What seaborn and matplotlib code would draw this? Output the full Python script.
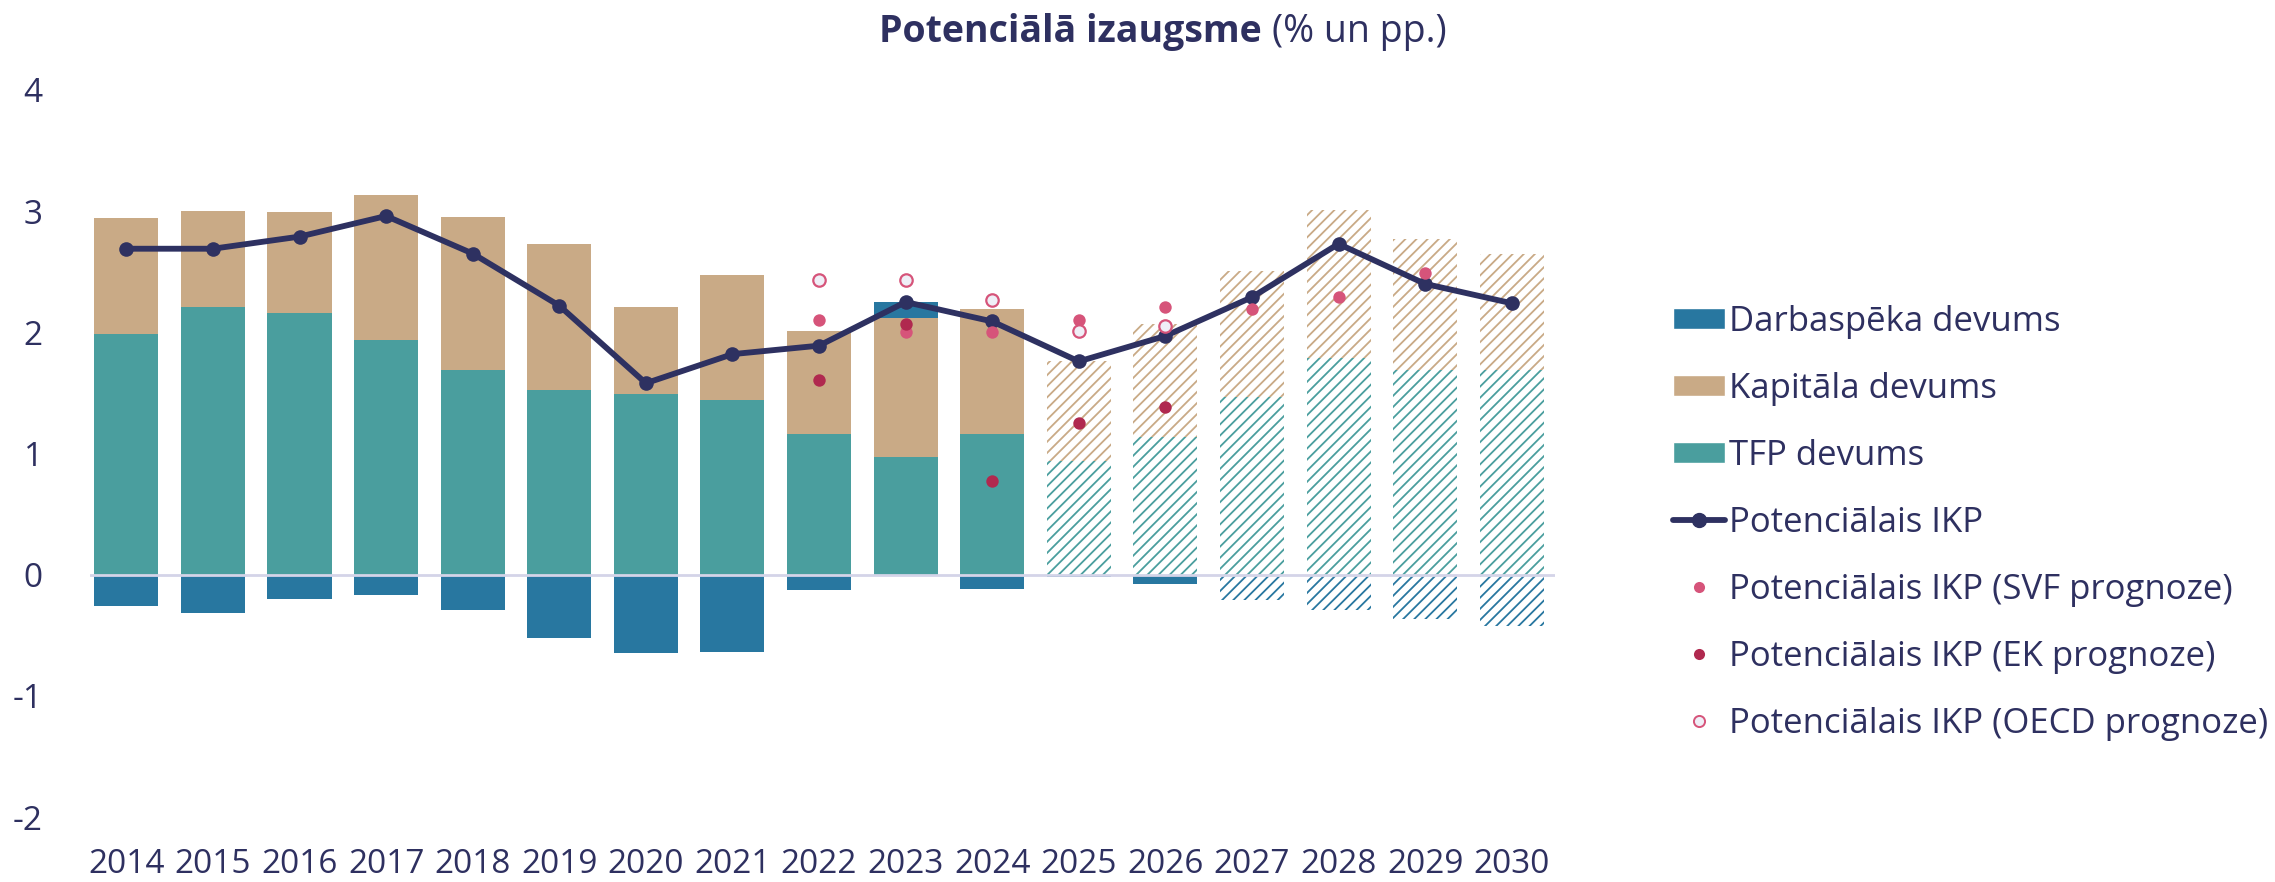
import numpy as np
import pandas as pd
import matplotlib
matplotlib.use("Agg")
import matplotlib.pyplot as plt
import seaborn as sns
from matplotlib.patches import Patch
from matplotlib.lines import Line2D

# data
years = [2014, 2015, 2016, 2017, 2018, 2019, 2020, 2021, 2022,
         2023, 2024, 2025, 2026, 2027, 2028, 2029, 2030]
tfp = [1.99, 2.21, 2.16, 1.94, 1.69, 1.52, 1.49, 1.44, 1.16,
       0.97, 1.16, 0.94, 1.14, 1.47, 1.79, 1.69, 1.69]
capital = [0.95, 0.79, 0.83, 1.19, 1.26, 1.21, 0.72, 1.03, 0.85,
           1.15, 1.03, 0.82, 0.93, 1.04, 1.22, 1.08, 0.96]
labour = [-0.26, -0.32, -0.20, -0.17, -0.29, -0.52, -0.65, -0.64, -0.13,
          0.13, -0.12, -0.02, -0.08, -0.21, -0.29, -0.37, -0.42]
potential = [2.69, 2.69, 2.79, 2.96, 2.65, 2.22, 1.58, 1.82, 1.89,
             2.25, 2.09, 1.76, 1.97, 2.29, 2.73, 2.40, 2.24]

svf_years = [2022, 2023, 2024, 2025, 2026, 2027, 2028, 2029]
svf = [2.10, 2.00, 2.00, 2.10, 2.21, 2.19, 2.29, 2.49]
ek_years = [2022, 2023, 2024, 2025, 2026]
ek = [1.61, 2.07, 0.77, 1.25, 1.38]
oecd_years = [2022, 2023, 2024, 2025, 2026]
oecd = [2.43, 2.43, 2.27, 2.01, 2.05]

forecast_from = 2025
labour_forecast_from = 2027

c_lab = "#2877a0"
c_cap = "#c9aa86"
c_tfp = "#4a9e9e"
c_line = "#2e3161"
c_svf = "#d6547a"
c_ek = "#b0294f"
c_text = "#2e3060"

sns.set_theme(style="white")
plt.rcParams["font.family"] = ["Open Sans", "DejaVu Sans"]
plt.rcParams["hatch.linewidth"] = 1.3
plt.rcParams["text.color"] = c_text

df = pd.DataFrame({"year": years, "tfp": tfp, "capital": capital,
                   "labour": labour, "potential": potential})
df["pos"] = np.arange(len(df))

fig = plt.figure(figsize=(22.75, 8.82), dpi=100)
ax = fig.add_axes([90 / 2275, 65 / 882, (1555 - 90) / 2275, (817 - 90) / 882])

width = 0.74


def draw_bar(x, h, bottom, color, hatched):
    if hatched:
        ax.bar(x, h, width, bottom=bottom, facecolor="white", edgecolor=color,
               hatch="///", linewidth=0, zorder=2)
    else:
        ax.bar(x, h, width, bottom=bottom, color=color, linewidth=0, zorder=2)


for _, r in df.iterrows():
    hatched = r["year"] >= forecast_from
    draw_bar(r["pos"], r["tfp"], 0, c_tfp, hatched)
    draw_bar(r["pos"], r["capital"], r["tfp"], c_cap, hatched)
    lab_bottom = r["tfp"] + r["capital"] if r["labour"] > 0 else 0
    draw_bar(r["pos"], r["labour"], lab_bottom, c_lab, r["year"] >= labour_forecast_from)

ax.axhline(0, color="#d4d4e8", lw=2, zorder=3)

sns.lineplot(data=df, x="pos", y="potential", color=c_line, lw=4.2,
             marker="o", markersize=10.5, markeredgewidth=0, ax=ax, zorder=5)

pos_of = dict(zip(years, df["pos"]))
sns.scatterplot(x=[pos_of[y] for y in svf_years], y=svf, color=c_svf, s=80,
                linewidth=0, ax=ax, zorder=6)
sns.scatterplot(x=[pos_of[y] for y in ek_years], y=ek, color=c_ek, s=80,
                linewidth=0, ax=ax, zorder=6)
sns.scatterplot(x=[pos_of[y] for y in oecd_years], y=oecd, color="#efeff7",
                edgecolor=c_svf, s=80, linewidth=1.6, ax=ax, zorder=6)

ax.set_xlim(-0.42, 16.5)
ax.set_ylim(-2, 4)
ax.set_yticks([-2, -1, 0, 1, 2, 3, 4])
ax.set_yticklabels(["-2", "-1", "0", "1", "2", "3", "4"])
ax.set_xticks(df["pos"])
ax.set_xticklabels([str(y) for y in years])
ax.tick_params(axis="both", length=0, labelsize=24, colors=c_text)
ax.tick_params(axis="y", pad=34)
ax.tick_params(axis="x", pad=22)
ax.set_xlabel("")
ax.set_ylabel("")
for s in ax.spines.values():
    s.set_visible(False)
ax.grid(False)

fig.text(1262 / 2275, 1 - 32 / 882, "Potenciālā izaugsme", ha="right", va="center",
         fontsize=27, fontweight="bold", color=c_text)
fig.text(1272 / 2275, 1 - 32 / 882, "(% un pp.)", ha="left", va="center",
         fontsize=27, color=c_text)

handles = [
    Patch(facecolor=c_lab, label="Darbaspēka devums"),
    Patch(facecolor=c_cap, label="Kapitāla devums"),
    Patch(facecolor=c_tfp, label="TFP devums"),
    Line2D([], [], color=c_line, lw=4.2, marker="o", markersize=10, label="Potenciālais IKP"),
    Line2D([], [], ls="", marker="o", color=c_svf, markersize=8, markeredgewidth=0,
           label="Potenciālais IKP (SVF prognoze)"),
    Line2D([], [], ls="", marker="o", color=c_ek, markersize=8, markeredgewidth=0,
           label="Potenciālais IKP (EK prognoze)"),
    Line2D([], [], ls="", marker="o", markerfacecolor="#efeff7", markeredgecolor=c_svf,
           markersize=8, markeredgewidth=1.4, label="Potenciālais IKP (OECD prognoze)"),
]
leg = fig.legend(handles=handles, loc="upper left",
                 bbox_to_anchor=(1659 / 2275, 1 - 291 / 882), frameon=False,
                 fontsize=25, handlelength=1.5, handleheight=0.55,
                 handletextpad=0.12, labelspacing=0.95, borderaxespad=0)
for t in leg.get_texts():
    t.set_color(c_text)

fig.savefig("out.png", dpi=100)
